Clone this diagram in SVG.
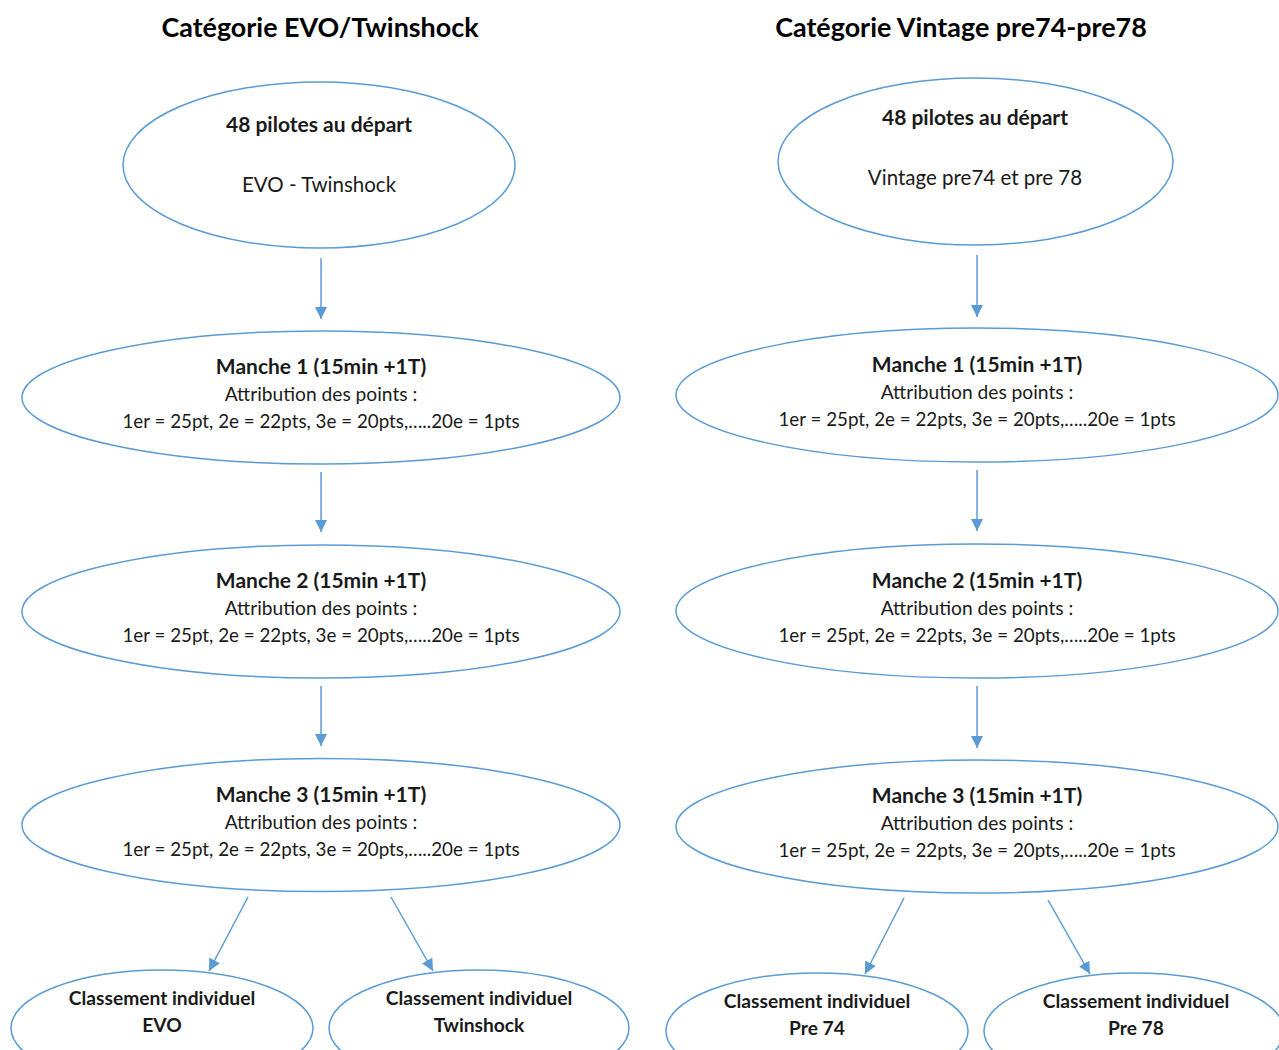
<svg xmlns="http://www.w3.org/2000/svg" width="1279" height="1050" viewBox="0 0 1279 1050">
<defs>
<marker id="ah" viewBox="0 0 10 10" refX="10" refY="5" markerWidth="12" markerHeight="12" markerUnits="userSpaceOnUse" orient="auto">
<path d="M0,0 L10,5 L0,10 z" fill="#5B9BD5"/>
</marker>
<style>
.n{fill:#fff;stroke:#5B9BD5;stroke-width:1.5}
.c line{stroke:#5B9BD5;stroke-width:1.5;marker-end:url(#ah)}
text{font-family:Lato,"Open Sans",sans-serif;text-anchor:middle;fill:#1a1a1a}
.t{font-size:26.9px;font-weight:bold;fill:#000}
.b{font-size:21px;font-weight:bold}
.r{font-size:20.5px}
.a{font-size:19.2px}
.p{font-size:18.8px}
.s{font-size:19.2px;font-weight:bold}
</style>
</defs>
<rect width="1279" height="1050" fill="#fff"/>
<text class="t" x="320" y="37">Catégorie EVO/Twinshock</text>
<text class="t" x="961" y="37">Catégorie Vintage pre74-pre78</text>
<g class="c">
<line x1="321" y1="258" x2="321" y2="319"/>
<line x1="321" y1="472" x2="321" y2="532"/>
<line x1="321" y1="686" x2="321" y2="746"/>
<line x1="977" y1="255" x2="977" y2="317"/>
<line x1="977" y1="470" x2="977" y2="531"/>
<line x1="977" y1="686" x2="977" y2="748"/>
<line x1="248" y1="897" x2="209" y2="971"/>
<line x1="391" y1="897" x2="433" y2="971"/>
<line x1="904" y1="898" x2="865" y2="974"/>
<line x1="1048" y1="900" x2="1090" y2="974"/>
</g>
<g id="evo-start"><ellipse class="n" cx="319" cy="165" rx="196" ry="83"/><text class="b" x="319" y="132">48 pilotes au départ</text><text class="r" x="319" y="192">EVO - Twinshock</text></g>
<g id="evo-m1"><ellipse class="n" cx="321" cy="397.5" rx="299" ry="66.5"/><text class="b" x="321" y="374">Manche 1 (15min +1T)</text><text class="a" x="321" y="401">Attribution des points :</text><text class="p" x="321" y="428">1er = 25pt, 2e = 22pts, 3e = 20pts,…..20e = 1pts</text></g>
<g id="evo-m2"><ellipse class="n" cx="321" cy="611.5" rx="299" ry="66.5"/><text class="b" x="321" y="588">Manche 2 (15min +1T)</text><text class="a" x="321" y="615">Attribution des points :</text><text class="p" x="321" y="642">1er = 25pt, 2e = 22pts, 3e = 20pts,…..20e = 1pts</text></g>
<g id="evo-m3"><ellipse class="n" cx="321" cy="825" rx="299" ry="66.5"/><text class="b" x="321" y="802">Manche 3 (15min +1T)</text><text class="a" x="321" y="829">Attribution des points :</text><text class="p" x="321" y="856">1er = 25pt, 2e = 22pts, 3e = 20pts,…..20e = 1pts</text></g>
<g id="evo-c1"><ellipse class="n" cx="162" cy="1028" rx="151" ry="58"/><text class="s" x="162" y="1005">Classement individuel</text><text class="s" x="162" y="1032">EVO</text></g>
<g id="evo-c2"><ellipse class="n" cx="479" cy="1028" rx="150" ry="58"/><text class="s" x="479" y="1005">Classement individuel</text><text class="s" x="479" y="1032">Twinshock</text></g>
<g id="vin-start"><ellipse class="n" cx="975.5" cy="161.5" rx="197.5" ry="83.5"/><text class="b" x="975" y="125">48 pilotes au départ</text><text class="r" x="975" y="185">Vintage pre74 et pre 78</text></g>
<g id="vin-m1"><ellipse class="n" cx="977" cy="395" rx="301" ry="67"/><text class="b" x="977" y="372">Manche 1 (15min +1T)</text><text class="a" x="977" y="399">Attribution des points :</text><text class="p" x="977" y="426">1er = 25pt, 2e = 22pts, 3e = 20pts,…..20e = 1pts</text></g>
<g id="vin-m2"><ellipse class="n" cx="977" cy="611" rx="301" ry="67"/><text class="b" x="977" y="588">Manche 2 (15min +1T)</text><text class="a" x="977" y="615">Attribution des points :</text><text class="p" x="977" y="642">1er = 25pt, 2e = 22pts, 3e = 20pts,…..20e = 1pts</text></g>
<g id="vin-m3"><ellipse class="n" cx="977" cy="826.5" rx="301" ry="66.5"/><text class="b" x="977" y="803">Manche 3 (15min +1T)</text><text class="a" x="977" y="830">Attribution des points :</text><text class="p" x="977" y="857">1er = 25pt, 2e = 22pts, 3e = 20pts,…..20e = 1pts</text></g>
<g id="vin-c1"><ellipse class="n" cx="817" cy="1031" rx="151" ry="58"/><text class="s" x="817" y="1008">Classement individuel</text><text class="s" x="817" y="1035">Pre 74</text></g>
<g id="vin-c2"><ellipse class="n" cx="1134" cy="1031" rx="150" ry="58"/><text class="s" x="1136" y="1008">Classement individuel</text><text class="s" x="1136" y="1035">Pre 78</text></g>
</svg>
